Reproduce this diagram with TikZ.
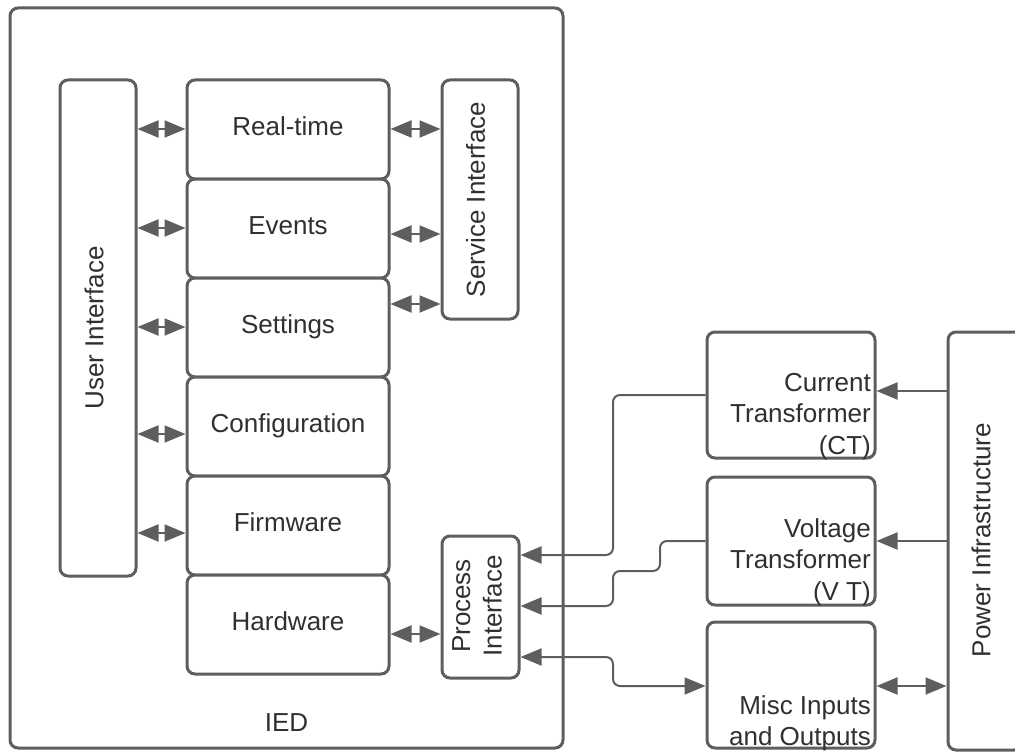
\documentclass[tikz,border=0pt]{standalone}
\usepackage{fontspec}
\setmainfont{Liberation Sans}
\usetikzlibrary{arrows.meta}
\definecolor{edge}{HTML}{5E5E5E}
\definecolor{ink}{HTML}{303030}
\begin{document}
\begin{tikzpicture}[x=1pt,y=-1pt,
  blk/.style={draw=edge, line width=3pt, rounded corners=8pt, fill=white,
    inner sep=0pt, text=ink, font=\fontsize{26}{31.5}\selectfont,
    text height=12pt, text depth=0pt},
  txt/.style={text=ink, inner sep=0pt, font=\fontsize{26}{31.5}\selectfont},
  link/.style={draw=edge, line width=2pt, rounded corners=7pt},
  head/.tip={Triangle[length=21pt,width=17pt]},
  one/.style={link, -{head}},
  both/.style={link, {head}-{head}}]
\useasboundingbox (0,0) rectangle (1015,752);

% IED enclosure
\node[blk, minimum width=553pt, minimum height=740pt] (ied) at (286.5,378) {};
\node[txt, anchor=base] (iedlbl) at (286.5,731) {IED};

% user interface column
\node[blk, minimum width=76pt, minimum height=496pt] (ui) at (98,328) {};
\node[txt, rotate=90] (uilbl) at (94,328) {User Interface};

% function stack
\node[blk, minimum width=202pt, minimum height=99pt] (rt) at (288,129.5) {Real-time};
\node[blk, minimum width=202pt, minimum height=99pt] (ev) at (288,228.5) {Events};
\node[blk, minimum width=202pt, minimum height=99pt] (se) at (288,327.5) {Settings};
\node[blk, minimum width=202pt, minimum height=99pt] (cf) at (288,426.5) {Configuration};
\node[blk, minimum width=202pt, minimum height=99pt] (fw) at (288,525.5) {Firmware};
\node[blk, minimum width=202pt, minimum height=99pt] (hw) at (288,624.5) {Hardware};

% service and process interfaces
\node[blk, minimum width=76pt, minimum height=239pt] (si) at (480,199.5) {};
\node[txt, rotate=90] (silbl) at (475.5,199.5) {Service Interface};
\node[blk, minimum width=77pt, minimum height=142pt] (pi) at (480.5,607) {};
\node[txt, rotate=90, align=center] (pilbl) at (477,606) {Process\\Interface};

% field devices
\node[blk, minimum width=168pt, minimum height=126pt] (ct) at (791,395) {};
\node[txt, align=right, anchor=north east] (ctlbl) at (871,373) {Current\\Transformer\\(CT)};
\node[blk, minimum width=168pt, minimum height=128pt] (vt) at (791,541) {};
\node[txt, align=right, anchor=north east] (vtlbl) at (871,518) {Voltage\\Transformer\\(V T)};
\node[blk, minimum width=168pt, minimum height=126pt] (mi) at (791,685) {};
\node[txt, align=right, anchor=north east] (milbl) at (871,695) {Misc Inputs\\and Outputs};

% power infrastructure
\node[blk, minimum width=74pt, minimum height=418pt] (pw) at (985,541) {};
\node[txt, rotate=90] (pwlbl) at (981,540) {Power Infrastructure};

% user interface links
\draw[both] (ui.east |- 0,129) -- (rt.west |- 0,129);
\draw[both] (ui.east |- 0,228) -- (ev.west |- 0,228);
\draw[both] (ui.east |- 0,327) -- (se.west |- 0,327);
\draw[both] (ui.east |- 0,434) -- (cf.west |- 0,434);
\draw[both] (ui.east |- 0,533) -- (fw.west |- 0,533);

% service interface links
\draw[both] (rt.east |- 0,129) -- (si.west |- 0,129);
\draw[both] (ev.east |- 0,234) -- (si.west |- 0,234);
\draw[both] (se.east |- 0,304) -- (si.west |- 0,304);

% hardware to process interface
\draw[both] (hw.east |- 0,634) -- (pi.west |- 0,634);

% measurement paths into the process interface
\draw[one] (ct.west) -- (613,395) -- (613,555) -- (pi.east |- 0,555);
\draw[one] (vt.west) -- (660,541) -- (660,571) -- (613,571) -- (613,606) -- (pi.east |- 0,606);
\draw[both] (pi.east |- 0,657) -- (613,657) -- (613,686) -- (mi.west |- 0,686);

% power infrastructure feeds
\draw[one] (pw.west |- 0,391) -- (ct.east |- 0,391);
\draw[one] (pw.west |- 0,541) -- (vt.east |- 0,541);
\draw[both] (mi.east |- 0,686) -- (pw.west |- 0,686);
\end{tikzpicture}
\end{document}
